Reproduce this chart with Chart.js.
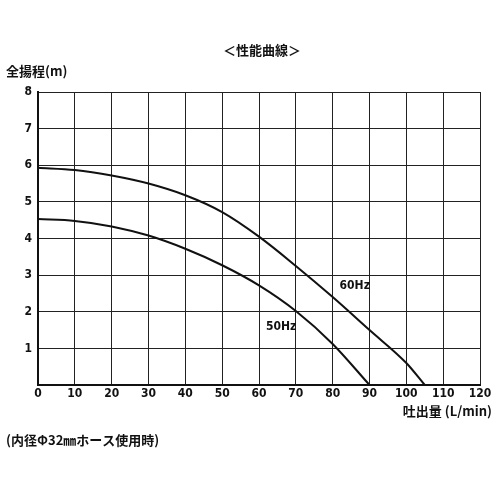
<!DOCTYPE html>
<html><head><meta charset="utf-8">
<script src="https://cdn.jsdelivr.net/npm/chart.js@4/dist/chart.umd.min.js"></script>
<style>html,body{margin:0;padding:0;background:#fff}</style>
</head><body>
<canvas id="c" width="500" height="500" style="width:500px;height:500px"></canvas>
<script>
const flow60 = [0,10,20,30,40,50,60,70,80,90,100,105];
const head60 = [5.93,5.87,5.72,5.5,5.18,4.72,4.05,3.25,2.4,1.5,0.6,0];
const flow50 = [0,10,20,30,40,50,60,70,80,90];
const head50 = [4.53,4.48,4.33,4.08,3.72,3.27,2.72,2.02,1.12,0];
const curveLabels = [{text:'60Hz',x:86,y:2.7},{text:'50Hz',x:66,y:1.6}];
const F = "'DejaVu Sans Condensed','Noto Sans CJK JP',sans-serif";
const texts = {
  id:'texts',
  afterDraw(ch){
    const c=ch.ctx, xs=ch.scales.x, ys=ch.scales.y;
    c.save(); c.fillStyle='#111'; c.textBaseline='middle';
    c.font="bold 12px "+F;
    curveLabels.forEach(l=>{c.textAlign='center';c.fillText(l.text,xs.getPixelForValue(l.x),ys.getPixelForValue(l.y));});
    c.font="bold 13px 'Noto Sans CJK JP',sans-serif";
    c.textAlign='center'; c.fillText('＜性能曲線＞',262,50);
    c.textAlign='left'; c.fillText('全揚程(m)',6,71);
    c.fillText('(内径Φ32㎜ホース使用時)',6,440);
    c.textAlign='right'; c.fillText('吐出量 (L/min)',492,411);
    c.restore();
  }
};
new Chart(document.getElementById('c'),{
  type:'scatter',
  data:{datasets:[
    {data:flow60.map((x,i)=>({x,y:head60[i]})),showLine:true,borderColor:'#111',borderWidth:2,pointRadius:0,cubicInterpolationMode:'monotone'},
    {data:flow50.map((x,i)=>({x,y:head50[i]})),showLine:true,borderColor:'#111',borderWidth:2,pointRadius:0,cubicInterpolationMode:'monotone'}
  ]},
  options:{responsive:false,animation:false,
    layout:{padding:{left:10,right:20,top:92,bottom:95}},
    plugins:{legend:{display:false},tooltip:{enabled:false}},
    scales:{
      x:{type:'linear',min:0,max:120,
        ticks:{stepSize:10,color:'#111',font:{family:F,size:12,weight:'bold'},maxRotation:0,padding:2},
        grid:{color:'#222',lineWidth:1,drawTicks:false},border:{color:'#111',width:2},
        afterFit(s){s.height=20;}},
      y:{min:0,max:8,
        ticks:{stepSize:1,color:'#111',font:{family:F,size:12,weight:'bold'},padding:6,callback:v=>v===0?'':v},
        grid:{color:'#222',lineWidth:1,drawTicks:false},border:{color:'#111',width:2},
        afterFit(s){s.width=28;}}
    }},
  plugins:[texts]
});
</script>
</body></html>
